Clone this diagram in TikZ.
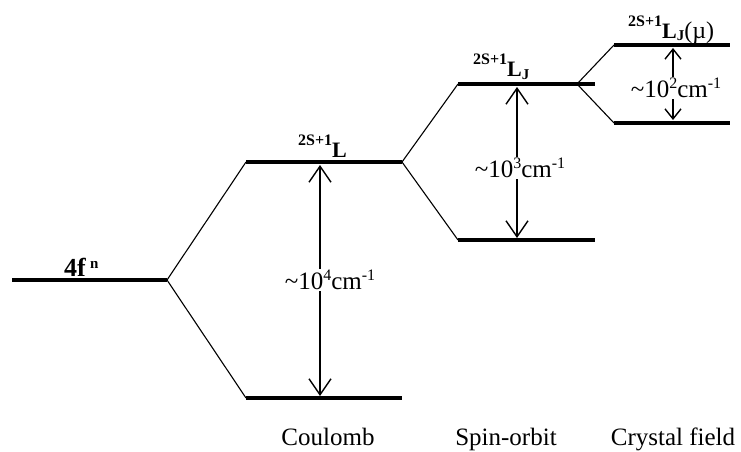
\documentclass[tikz,border=0pt]{standalone}
\usepackage{fontspec}
\setmainfont{Liberation Serif}
\usetikzlibrary{arrows.meta}

% term symbol: superscript multiplicity, bold L, optional subscript/suffix
\newcommand\TermSym[2]{{\bfseries\fontsize{16}{16}\selectfont\raisebox{12pt}{2S+1}\fontsize{22}{22}\selectfont L\raisebox{-2pt}{\fontsize{15}{15}\selectfont #1}}#2}
% splitting magnitude text
\newcommand\SupNum[1]{\raisebox{9pt}{\fontsize{16}{16}\selectfont #1}}
\newcommand\GapText[1]{\fontsize{25}{25}\selectfont\textasciitilde10\SupNum{#1}cm\SupNum{-1}}

\begin{document}
\begin{tikzpicture}[x=1pt,y=-1pt,
  level/.style={line width=4pt},
  link/.style={line width=1.1pt},
  bigtip/.tip={Straight Barb[length=16pt,width=22pt,line width=1.4pt]},
  smalltip/.tip={Straight Barb[length=10pt,width=16pt,line width=1.4pt]},
  gap/.style={line width=1.4pt},
  gaplabel/.style={fill=white,inner sep=1pt},
  term/.style={anchor=base west,inner sep=0pt},
  stage/.style={anchor=base,inner sep=0pt,font=\fontsize{25}{25}\selectfont}]
\useasboundingbox (0,0) rectangle (741,452);

% level end points
\coordinate (f0) at (12,280);   \coordinate (f1) at (167,280);
\coordinate (c1a) at (246,162); \coordinate (c1b) at (402,162);
\coordinate (c2a) at (246,398); \coordinate (c2b) at (402,398);
\coordinate (s1a) at (458,84);  \coordinate (s1b) at (595,84);
\coordinate (s2a) at (458,240); \coordinate (s2b) at (595,240);
\coordinate (k1a) at (614,45);  \coordinate (k1b) at (730,45);
\coordinate (k2a) at (614,123); \coordinate (k2b) at (730,123);
\coordinate (sb) at (577,84);

% energy levels
\foreach \a/\b in {f0/f1,c1a/c1b,c2a/c2b,s1a/s1b,s2a/s2b,k1a/k1b,k2a/k2b}
  \draw[level] (\a) -- (\b);

% splitting links
\draw[link] (f1) -- (c1a);
\draw[link] (f1) -- (c2a);
\draw[link] (c1b) -- (s1a);
\draw[link] (c1b) -- (s2a);
\draw[link] (sb) -- (k1a);
\draw[link] (sb) -- (k2a);

% splitting magnitudes
\coordinate (cu) at (320,165); \coordinate (cl) at (320,396);
\coordinate (su) at (517,87);  \coordinate (sl) at (517,238);
\coordinate (ku) at (673,48);  \coordinate (kl) at (673,120);
\draw[gap,bigtip-bigtip] (cu) -- (cl);
\draw[gap,bigtip-bigtip] (su) -- (sl);
\draw[gap,smalltip-smalltip] (ku) -- (kl);
\node[gaplabel] (g4) at (330,280) {\GapText{4}};
\node[gaplabel] (g3) at (520,168) {\GapText{3}};
\node[gaplabel] (g2) at (676,88) {\GapText{2}};

% level labels
\node[term] (t0) at (64,276) {\bfseries\fontsize{26}{26}\selectfont 4f\,\raisebox{8pt}{\fontsize{15}{15}\selectfont n}};
\node[term] (t1) at (298,157) {\TermSym{}{}};
\node[term] (t2) at (473,77) {\TermSym{J}{}};
\node[term] (t3) at (628,38) {\TermSym{J}{\fontsize{24}{24}\selectfont(\textmu)}};

% stage labels
\node[stage] (l1) at (328,445) {Coulomb};
\node[stage] (l2) at (506,445) {Spin-orbit};
\node[stage] (l3) at (673,445) {Crystal field};
\end{tikzpicture}
\end{document}
